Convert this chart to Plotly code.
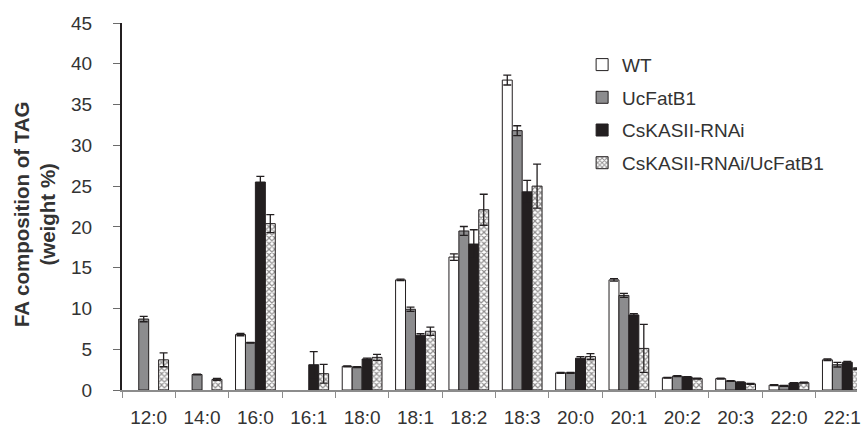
import plotly.graph_objects as go

# Fatty acid species on the x axis
fatty_acids = ["12:0", "14:0", "16:0", "16:1", "18:0", "18:1", "18:2",
               "18:3", "20:0", "20:1", "20:2", "20:3", "22:0", "22:1"]

# Mean weight % of each fatty acid in TAG, per line (None = not detected)
wt_mean = [None, None, 6.8, None, 2.9, 13.5, 16.3, 38.0, 2.1, 13.5, 1.5, 1.4, 0.6, 3.7]
ucfatb1_mean = [8.7, 1.9, 5.8, None, 2.8, 9.9, 19.5, 31.8, 2.1, 11.6, 1.7, 1.1, 0.5, 3.1]
kasii_mean = [None, None, 25.5, 3.1, 3.8, 6.7, 17.9, 24.3, 3.9, 9.2, 1.6, 0.95, 0.85, 3.4]
kasii_ucfatb1_mean = [3.7, 1.3, 20.4, 2.0, 4.0, 7.2, 22.1, 25.0, 4.1, 5.1, 1.4, 0.75, 0.9, 2.6]

# Standard deviations
wt_sd = [0, 0, 0.15, 0, 0.05, 0.1, 0.4, 0.6, 0.05, 0.15, 0.05, 0.05, 0.05, 0.1]
ucfatb1_sd = [0.33, 0.05, 0.05, 0, 0.05, 0.25, 0.55, 0.6, 0.05, 0.25, 0.05, 0.05, 0.05, 0.28]
kasii_sd = [0, 0, 0.7, 1.6, 0.1, 0.2, 1.75, 1.4, 0.2, 0.15, 0.05, 0.05, 0.05, 0.1]
kasii_ucfatb1_sd = [0.85, 0.12, 1.1, 1.15, 0.37, 0.5, 1.9, 2.7, 0.36, 2.95, 0.05, 0.05, 0.05, 0.1]

series_names = ["WT", "UcFatB1", "CsKASII-RNAi", "CsKASII-RNAi/UcFatB1"]

INK = "#231f20"
TEXT = "#333333"
FONT = "Liberation Sans, Arial, sans-serif"

styles = [
    dict(marker=dict(color="white", line=dict(color=INK, width=1))),
    dict(marker=dict(color="#8c8c8e", line=dict(color=INK, width=1))),
    dict(marker=dict(color=INK, line=dict(color=INK, width=1))),
    dict(marker=dict(color="white", line=dict(color=INK, width=1),
                     pattern=dict(shape="x", fgcolor=INK, bgcolor="white",
                                  size=4, solidity=0.5))),
]

fig = go.Figure()
for name, means, sds, style in zip(
        series_names,
        [wt_mean, ucfatb1_mean, kasii_mean, kasii_ucfatb1_mean],
        [wt_sd, ucfatb1_sd, kasii_sd, kasii_ucfatb1_sd],
        styles):
    fig.add_trace(go.Bar(
        name=name, x=fatty_acids, y=means, legendgroup=name,
        error_y=dict(type="data", array=sds, visible=True,
                     color=INK, thickness=1.3, width=4),
        **style,
    ))

plot_left, plot_right = 121.7, 861.0
cat_step = 53.67
x_hi = -0.5 + (plot_right - plot_left) / cat_step

fig.update_layout(
    width=861, height=428,
    margin=dict(l=122, r=0, t=23, b=34),
    paper_bgcolor="white", plot_bgcolor="white",
    barmode="group", bargap=0.255, bargroupgap=0,
    font=dict(family=FONT, size=19, color=TEXT),
    showlegend=True,
    legend=dict(x=0.626, y=0.938, xanchor="left", yanchor="top",
                font=dict(family=FONT, size=19, color=TEXT),
                tracegroupgap=5, bgcolor="rgba(0,0,0,0)"),
    xaxis=dict(
        type="category", range=[-0.5, x_hi],
        showline=True, linecolor="#8c8c8c", linewidth=2,
        ticks="outside", tickson="boundaries", ticklen=6,
        tickcolor="#8c8c8c", tickwidth=1,
        ticklabelstandoff=9, showgrid=False,
        tickfont=dict(family=FONT, size=19, color=TEXT),
    ),
    yaxis=dict(
        range=[0, 45], dtick=5, tick0=0,
        showline=True, linecolor=INK, linewidth=2,
        ticks="outside", ticklen=7, tickcolor="#6b6b6b", tickwidth=1,
        ticklabelstandoff=17, showgrid=False, zeroline=False,
        tickfont=dict(family=FONT, size=19, color=TEXT),
    ),
    annotations=[dict(
        text="<b>FA composition of TAG<br>(weight %)</b>",
        xref="paper", yref="paper", x=-0.1186, y=0.479,
        xanchor="center", yanchor="middle", textangle=-90,
        showarrow=False,
        font=dict(family=FONT, size=20.5, color=TEXT),
    )],
)

fig.write_html("out.html")
